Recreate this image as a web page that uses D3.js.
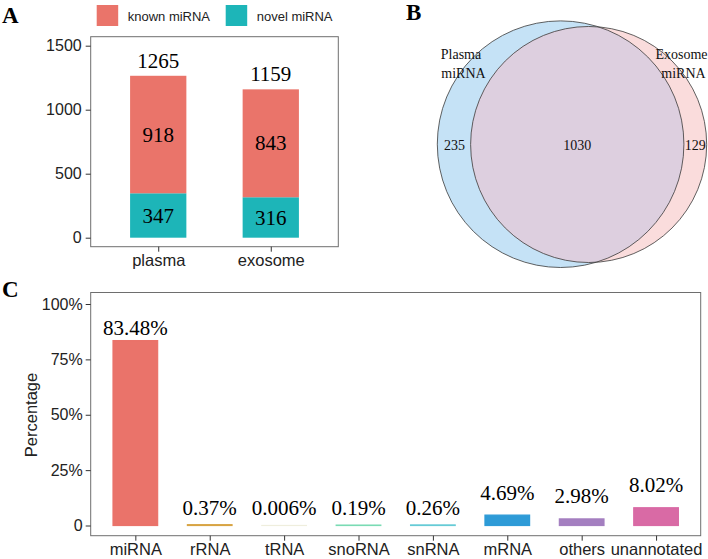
<!DOCTYPE html>
<html><head><meta charset="utf-8">
<script src="https://cdn.jsdelivr.net/npm/d3@7"></script>
<style>body{margin:0;background:#fff}svg{display:block}</style>
</head><body>
<svg id="c" width="708" height="559"></svg>
<script>
// ---- Panel A data ----
const groupsA = ["plasma", "exosome"];
const knownA = [918, 843];
const novelA = [347, 316];
const totalA = [1265, 1159];
const ticksA = [0, 500, 1000, 1500];
const seriesA = ["known miRNA", "novel miRNA"];
const colorsA = ["#EA746A", "#1DB5B8"];

// ---- Panel B data ----
const vennSets = ["Plasma miRNA", "Exosome miRNA"];
const vennSizes = [1265, 1159];
const vennOverlap = 1030;
const vennOnly = [235, 129];

// ---- Panel C data ----
const catsC = ["miRNA", "rRNA", "tRNA", "snoRNA", "snRNA", "mRNA", "others", "unannotated"];
const pctC = [83.48, 0.37, 0.006, 0.19, 0.26, 4.69, 2.98, 8.02];
const labelsC = ["83.48%", "0.37%", "0.006%", "0.19%", "0.26%", "4.69%", "2.98%", "8.02%"];
const colorsC = ["#EA736A", "#D8A443", "#EFEEDD", "#7ADBB4", "#66CBD6", "#2E9BD7", "#A47FC0", "#D96AA5"];
const ticksC = [0, 25, 50, 75, 100];

const svg = d3.select("#c");
const SANS = "'Liberation Sans', Arial, sans-serif";
const SERIF = "'Liberation Serif', 'Times New Roman', serif";

function panelLetter(t, x, y) {
  svg.append("text").attr("x", x).attr("y", y).text(t)
    .attr("font-family", SERIF).attr("font-weight", "bold").attr("font-size", 23).attr("fill", "#000");
}

// ================= Panel A =================
(function () {
  const L = 90.7, R = 338.3, T = 36.7, B = 246.7;
  const y = d3.scaleLinear().domain([0, 1500]).range([237.7, 45.7]);
  const x = d3.scalePoint().domain(groupsA).range([L, R]).padding(0.6);
  const bw = x.step() * 0.5;
  const g = svg.append("g");

  // bars
  groupsA.forEach((gname, i) => {
    const cx = x(gname);
    g.append("rect").attr("x", cx - bw / 2).attr("width", bw)
      .attr("y", y(novelA[i])).attr("height", y(0) - y(novelA[i])).attr("fill", colorsA[1]);
    g.append("rect").attr("x", cx - bw / 2).attr("width", bw)
      .attr("y", y(totalA[i])).attr("height", y(novelA[i]) - y(totalA[i])).attr("fill", colorsA[0]);
    const tx = (v, yy) => g.append("text").attr("x", cx).attr("y", yy).text(v)
      .attr("text-anchor", "middle").attr("font-family", SERIF).attr("font-size", 21).attr("fill", "#000");
    tx(totalA[i], y(totalA[i]) - 8);
    tx(knownA[i], y((novelA[i] + totalA[i]) / 2) + 7);
    tx(novelA[i], y(novelA[i] / 2) + 8);
  });

  // box
  g.append("rect").attr("x", L).attr("y", T).attr("width", R - L).attr("height", B - T)
    .attr("fill", "none").attr("stroke", "#6e6e6e").attr("stroke-width", 1);

  const ay = g.append("g").attr("transform", `translate(${L},0)`)
    .call(d3.axisLeft(y).tickValues(ticksA).tickSize(5).tickPadding(4).tickFormat(d3.format("d")));
  ay.select(".domain").remove();
  ay.selectAll("line").attr("stroke", "#333");
  ay.selectAll("text").attr("font-family", SANS).attr("font-size", 16).attr("fill", "#222");

  const ax = g.append("g").attr("transform", `translate(0,${B})`)
    .call(d3.axisBottom(x).tickSize(5).tickPadding(3));
  ax.select(".domain").remove();
  ax.selectAll("line").attr("stroke", "#333");
  ax.selectAll("text").attr("font-family", SANS).attr("font-size", 16.5).attr("fill", "#222");

  // legend
  const lg = g.append("g");
  const lx = [96.7, 225.7];
  seriesA.forEach((s, i) => {
    lg.append("rect").attr("x", lx[i]).attr("y", 5).attr("width", 21.5).attr("height", 21).attr("fill", colorsA[i]);
    lg.append("text").attr("x", lx[i] + 31).attr("y", 20.5).text(s)
      .attr("font-family", SANS).attr("font-size", 13).attr("fill", "#222");
  });
})();
panelLetter("A", 2, 23);

// ================= Panel B =================
(function () {
  const k = 3.467; // px per sqrt(count)
  const r1 = k * Math.sqrt(vennSizes[0]);
  const r2 = k * Math.sqrt(vennSizes[1]);
  const target = vennOverlap * k * k * Math.PI;
  function lens(d) {
    if (d >= r1 + r2) return 0;
    if (d <= Math.abs(r1 - r2)) return Math.PI * Math.min(r1, r2) ** 2;
    const a1 = Math.acos((d * d + r1 * r1 - r2 * r2) / (2 * d * r1));
    const a2 = Math.acos((d * d + r2 * r2 - r1 * r1) / (2 * d * r2));
    return r1 * r1 * (a1 - Math.sin(2 * a1) / 2) + r2 * r2 * (a2 - Math.sin(2 * a2) / 2);
  }
  let lo = Math.abs(r1 - r2), hi = r1 + r2;
  for (let i = 0; i < 60; i++) { const m = (lo + hi) / 2; if (lens(m) > target) lo = m; else hi = m; }
  const d = (lo + hi) / 2;
  const c1 = [437.3 + r1, 144.2];
  const c2 = [c1[0] + d, 144.5];
  const g = svg.append("g");
  const defs = svg.append("defs");
  defs.append("clipPath").attr("id", "clipA").append("circle").attr("cx", c1[0]).attr("cy", c1[1]).attr("r", r1);
  g.append("circle").attr("cx", c1[0]).attr("cy", c1[1]).attr("r", r1).attr("fill", "#C5E2F6");
  g.append("circle").attr("cx", c2[0]).attr("cy", c2[1]).attr("r", r2).attr("fill", "#FADCDC");
  g.append("circle").attr("cx", c2[0]).attr("cy", c2[1]).attr("r", r2).attr("fill", "#DDCFDF").attr("clip-path", "url(#clipA)");
  g.append("circle").attr("cx", c1[0]).attr("cy", c1[1]).attr("r", r1).attr("fill", "none").attr("stroke", "#3a3a3a").attr("stroke-width", 0.8);
  g.append("circle").attr("cx", c2[0]).attr("cy", c2[1]).attr("r", r2).attr("fill", "none").attr("stroke", "#3a3a3a").attr("stroke-width", 0.8);

  const t = (s, x, yy, anchor) => g.append("text").attr("x", x).attr("y", yy).text(s)
    .attr("text-anchor", anchor || "middle").attr("font-family", SERIF).attr("font-size", 14).attr("fill", "#111");
  const leftEdge1 = c1[0] - r1, leftEdge2 = c2[0] - r2, rightEdge1 = c1[0] + r1, rightEdge2 = c2[0] + r2;
  t(vennOnly[0], (leftEdge1 + leftEdge2) / 2 + 0.5, 150);
  t(vennOverlap, (leftEdge2 + rightEdge1) / 2, 150);
  t(vennOnly[1], (rightEdge1 + rightEdge2) / 2, 150);
  const n1 = vennSets[0].split(" "), n2 = vennSets[1].split(" ");
  t(n1[0], 461, 58.5); t(n1[1], 463.5, 77.5);
  t(n2[0], 681.5, 58.5); t(n2[1], 683.5, 77.5);
})();
panelLetter("B", 406, 20);

// ================= Panel C =================
(function () {
  const L = 90.7, R = 700.7, T = 292.5, B = 535.7;
  const y = d3.scaleLinear().domain([0, 100]).range([525.5, 304]);
  const x = d3.scalePoint().domain(catsC).range([L, R]).padding(0.6);
  const bw = x.step() * 0.6;
  const g = svg.append("g");

  catsC.forEach((c, i) => {
    const cx = x(c), v = pctC[i];
    const h = Math.max(y(0) - y(v), 0);
    g.append("rect").attr("x", cx - bw / 2).attr("width", bw).attr("y", y(v)).attr("height", h)
      .attr("fill", colorsC[i]).attr("stroke", colorsC[i]).attr("stroke-width", 1.2);
    const off = v < 1 ? null : (v < 20 ? 15.5 : 6);
    const ly = off === null ? y(0) - 10.5 : y(v) - off;
    g.append("text").attr("x", cx).attr("y", ly).text(labelsC[i])
      .attr("text-anchor", "middle").attr("font-family", SERIF).attr("font-size", 21).attr("fill", "#000");
  });

  g.append("rect").attr("x", L).attr("y", T).attr("width", R - L).attr("height", B - T)
    .attr("fill", "none").attr("stroke", "#6e6e6e").attr("stroke-width", 1);

  const ay = g.append("g").attr("transform", `translate(${L},0)`)
    .call(d3.axisLeft(y).tickValues(ticksC).tickSize(5).tickPadding(3).tickFormat(v => v === 0 ? "0" : v + "%"));
  ay.select(".domain").remove();
  ay.selectAll("line").attr("stroke", "#333");
  ay.selectAll("text").attr("font-family", SANS).attr("font-size", 16).attr("fill", "#222");

  const ax = g.append("g").attr("transform", `translate(0,${B})`)
    .call(d3.axisBottom(x).tickSize(5).tickPadding(3));
  ax.select(".domain").remove();
  ax.selectAll("line").attr("stroke", "#333");
  ax.selectAll("text").attr("font-family", SANS).attr("font-size", 16.5).attr("fill", "#222");

  g.append("text").attr("transform", "translate(37,415) rotate(-90)").text("Percentage")
    .attr("text-anchor", "middle").attr("font-family", SANS).attr("font-size", 16.5).attr("fill", "#222");
})();
panelLetter("C", 2, 297);
</script>
</body></html>
